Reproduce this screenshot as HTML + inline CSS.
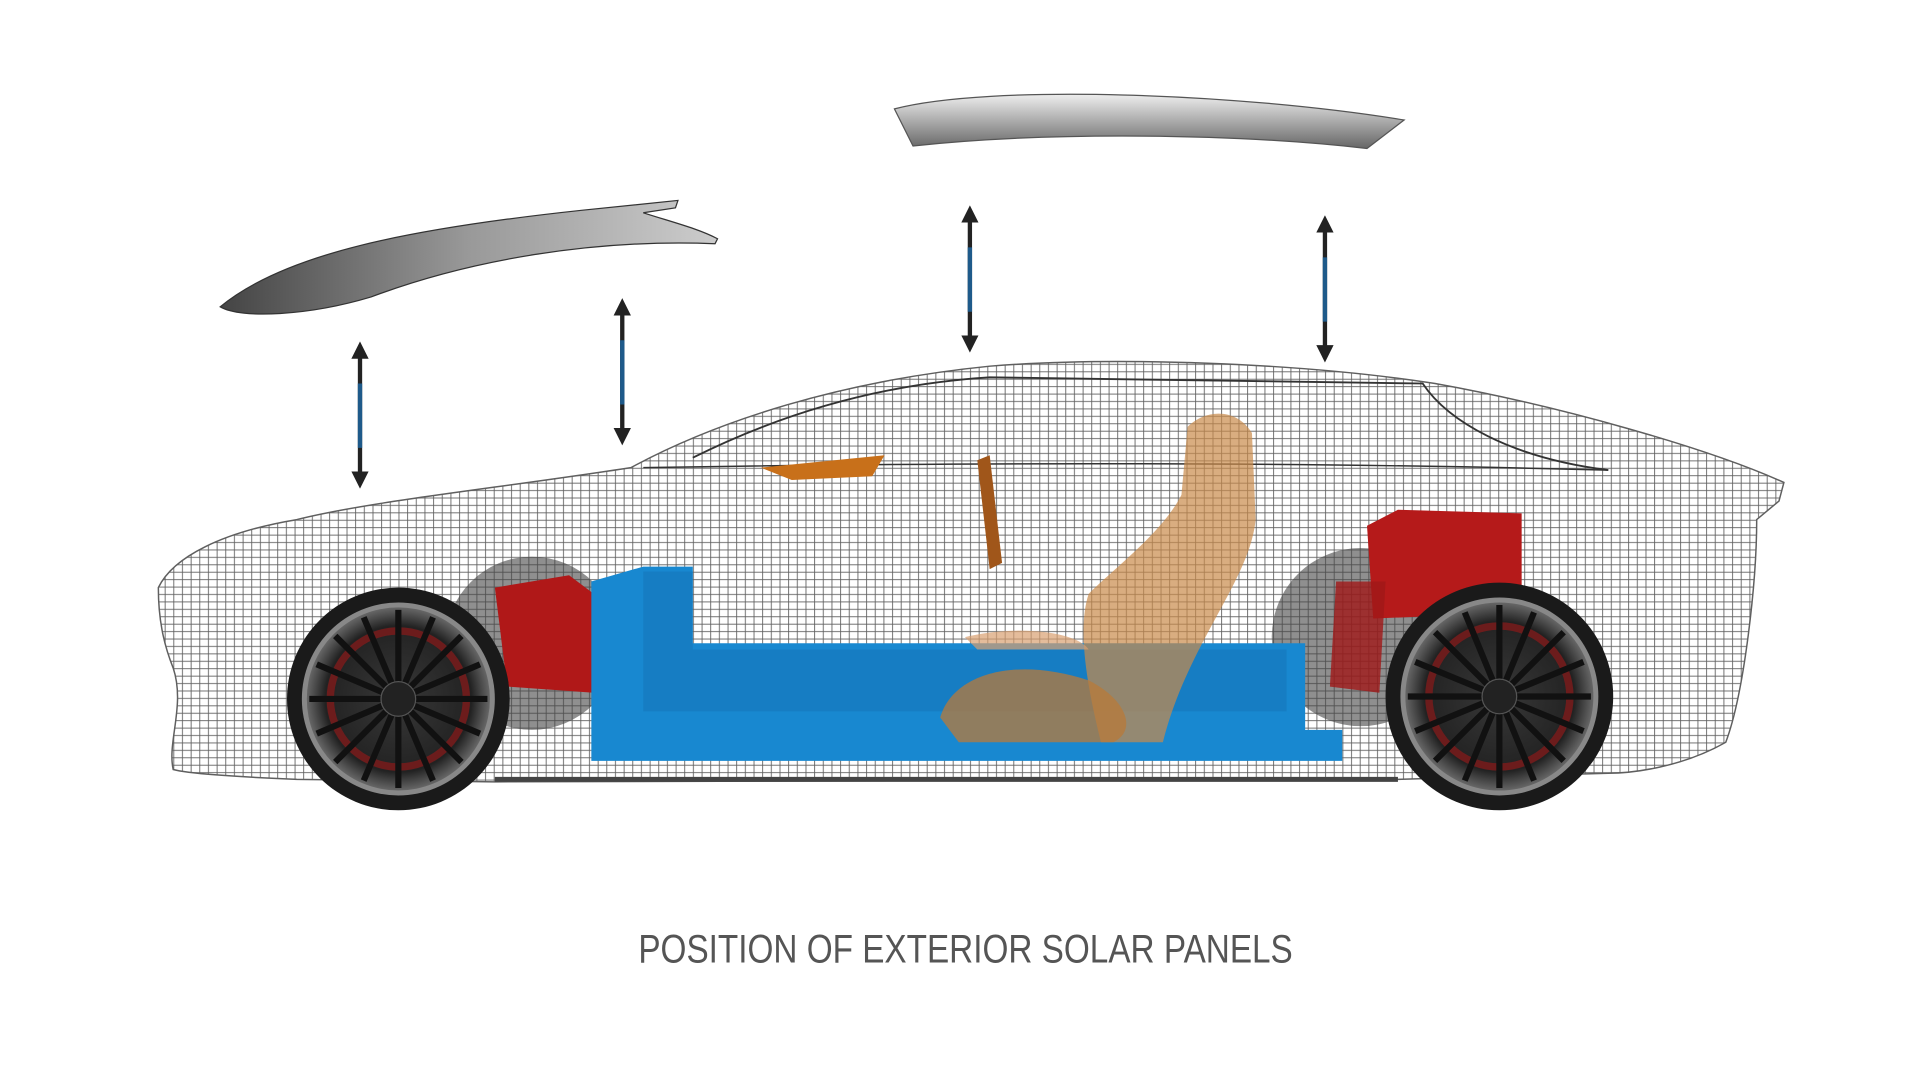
<!DOCTYPE html>
<html><head><meta charset="utf-8"><style>
html,body{margin:0;padding:0;background:#fff;width:1920px;height:1080px;overflow:hidden}
svg{display:block}
</style></head><body>
<svg width="1920" height="1080" viewBox="0 0 1552 873" preserveAspectRatio="none" xmlns="http://www.w3.org/2000/svg">
<defs>
<pattern id="mesh" width="7" height="6" patternUnits="userSpaceOnUse">
<rect width="7" height="6" fill="#fff"/>
<path d="M0 0.5H7M0.5 0V6" stroke="#444" stroke-width="0.7"/>
</pattern>
<linearGradient id="pan" x1="0" y1="0" x2="0" y2="1">
<stop offset="0" stop-color="#eee"/><stop offset="0.5" stop-color="#aaa"/><stop offset="1" stop-color="#666"/>
</linearGradient>
<linearGradient id="pan2" x1="0" y1="0" x2="1" y2="0">
<stop offset="0" stop-color="#444"/><stop offset="0.5" stop-color="#999"/><stop offset="1" stop-color="#ccc"/>
</linearGradient>
<radialGradient id="rim"><stop offset="0.2" stop-color="#333"/><stop offset="0.8" stop-color="#222"/><stop offset="1" stop-color="#666"/></radialGradient>
<marker id="ah" viewBox="0 0 10 10" refX="5" refY="5" markerWidth="4" markerHeight="5" orient="auto-start-reverse"><path d="M0 0L10 5L0 10z" fill="#222"/></marker>
</defs>

<path d="M178 248 C230 205 330 185 470 170 L548 162 L546 168 L520 172 C545 180 565 185 580 193 L578 197 C480 193 380 210 300 240 C250 255 195 258 178 248Z" fill="url(#pan2)" stroke="#333" stroke-width="1"/>
<path d="M723 88 C800 68 1000 75 1135 97 L1105 120 C1000 108 850 106 738 118Z" fill="url(#pan)" stroke="#555" stroke-width="1"/>

<g stroke-width="3.5" marker-start="url(#ah)" marker-end="url(#ah)">
<line x1="291" y1="283" x2="291" y2="388" stroke="#222"/>
<line x1="503" y1="248" x2="503" y2="353" stroke="#222"/>
<line x1="784" y1="173" x2="784" y2="278" stroke="#222"/>
<line x1="1071" y1="181" x2="1071" y2="286" stroke="#222"/>
</g>
<g stroke="#1e5a8a" stroke-width="3.5">
<line x1="291" y1="310" x2="291" y2="362"/><line x1="503" y1="275" x2="503" y2="327"/>
<line x1="784" y1="200" x2="784" y2="252"/><line x1="1071" y1="208" x2="1071" y2="260"/>
</g>

<path d="M128 475 C140 450 180 430 240 420 C300 405 400 395 510 378 C580 340 680 308 800 296 C900 288 1050 293 1160 310 C1260 328 1380 362 1442 390 L1438 405 L1420 420 C1420 470 1410 560 1395 600 C1360 620 1320 625 1300 625 L1130 630 L400 632 L240 630 C190 628 150 625 140 622 C135 600 150 570 140 540 C132 520 128 500 128 475Z" fill="url(#mesh)" stroke="#444" stroke-width="1.2" opacity="0.85"/>
<path d="M560 370 C640 330 720 310 800 305 L1150 310 C1170 340 1220 370 1300 380" fill="none" stroke="#333" stroke-width="1.5"/>
<path d="M520 378 C700 375 1000 372 1300 380" fill="none" stroke="#333" stroke-width="1.2"/>
<path d="M400 630 L1130 630" stroke="#444" stroke-width="4"/>

<circle cx="430" cy="520" r="70" fill="#444" opacity="0.6"/>
<circle cx="1100" cy="515" r="72" fill="#444" opacity="0.6"/>

<path d="M400 475 L460 465 L480 480 L480 560 L410 555Z" fill="#b01818"/>
<path d="M1105 425 L1130 412 L1230 415 L1230 495 L1110 500Z" fill="#b51a1a"/>
<path d="M1080 470 L1120 470 L1115 560 L1075 555Z" fill="#a01818" opacity="0.8"/>

<path d="M478 470 L520 458 L560 458 L560 520 L1055 520 L1055 590 L1085 590 L1085 615 L478 615Z" fill="#1888d0"/>
<path d="M520 462 L520 575 L1040 575 L1040 525 L560 525 L560 462Z" fill="#1577ba" opacity="0.6"/>

<path d="M960 345 C975 330 1000 330 1012 350 L1015 420 C1010 470 960 520 940 600 L890 600 C880 560 870 510 880 480 C900 460 940 430 955 400Z" fill="#c98a4a" opacity="0.7"/>
<path d="M760 580 C770 545 820 530 880 550 C910 565 920 590 900 600 L775 600Z" fill="#b87a3a" opacity="0.75"/>
<path d="M780 515 C820 505 870 510 880 525 L790 525Z" fill="#d9a070" opacity="0.7"/>
<path d="M790 372 L800 368 L810 455 L800 460Z" fill="#a0561a"/>
<path d="M615 378 L715 368 L705 385 L640 388Z" fill="#c8701a"/>

<g transform="translate(322 565)">
<circle r="90" fill="#1a1a1a"/><circle r="78" fill="#888"/><circle r="74" fill="url(#rim)"/>
<circle r="55" fill="none" stroke="#8b1a1a" stroke-width="6" opacity="0.7"/>
<g stroke="#111" stroke-width="5">
<line x1="0" y1="-72" x2="0" y2="72"/><line x1="-72" y1="0" x2="72" y2="0"/>
<line x1="-51" y1="-51" x2="51" y2="51"/><line x1="-51" y1="51" x2="51" y2="-51"/>
<line x1="-28" y1="-66" x2="28" y2="66"/><line x1="-66" y1="-28" x2="66" y2="28"/>
<line x1="28" y1="-66" x2="-28" y2="66"/><line x1="66" y1="-28" x2="-66" y2="28"/>
</g>
<circle r="14" fill="#222" stroke="#555"/>
</g>
<g transform="translate(1212 563)">
<circle r="92" fill="#1a1a1a"/><circle r="80" fill="#888"/><circle r="76" fill="url(#rim)"/>
<circle r="57" fill="none" stroke="#8b1a1a" stroke-width="6" opacity="0.7"/>
<g stroke="#111" stroke-width="5">
<line x1="0" y1="-74" x2="0" y2="74"/><line x1="-74" y1="0" x2="74" y2="0"/>
<line x1="-52" y1="-52" x2="52" y2="52"/><line x1="-52" y1="52" x2="52" y2="-52"/>
<line x1="-28" y1="-68" x2="28" y2="68"/><line x1="-68" y1="-28" x2="68" y2="28"/>
<line x1="28" y1="-68" x2="-28" y2="68"/><line x1="68" y1="-28" x2="-68" y2="28"/>
</g>
<circle r="14" fill="#222" stroke="#555"/>
</g>

<text x="516" y="778" font-family="Liberation Sans, sans-serif" font-size="32" fill="#555" textLength="529" lengthAdjust="spacingAndGlyphs">POSITION OF EXTERIOR SOLAR PANELS</text>
</svg>
</body></html>
